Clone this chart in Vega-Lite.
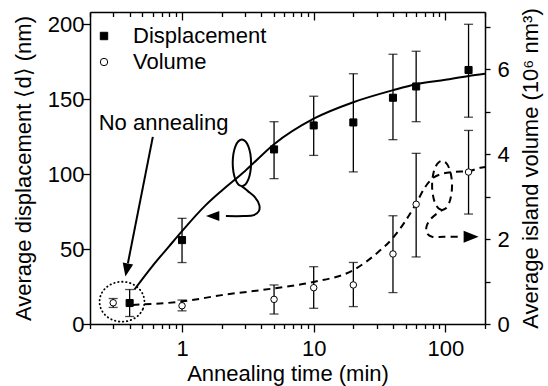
{
  "$schema": "https://vega.github.io/schema/vega-lite/v6.json",
  "width": 395,
  "height": 312,
  "autosize": {"type": "none"},
  "padding": {"left": 90, "top": 12, "right": 63, "bottom": 62},
  "background": "white",
  "config": {
    "font": "Liberation Sans",
    "view": {"stroke": null},
    "axis": {
      "grid": false,
      "domainColor": "black",
      "domainWidth": 1.5,
      "tickColor": "black",
      "tickWidth": 1.3,
      "labelColor": "black",
      "titleColor": "black",
      "labelFont": "Liberation Sans",
      "titleFont": "Liberation Sans",
      "labelFontSize": 22,
      "titleFontSize": 22,
      "titleFontWeight": "normal",
      "labelOverlap": false,
      "labelFlush": false
    },
    "legend": {
      "orient": "none",
      "legendX": 3,
      "legendY": 13,
      "padding": 0,
      "labelFont": "Liberation Sans",
      "labelFontSize": 22,
      "labelColor": "black",
      "labelOffset": 18,
      "rowPadding": 4,
      "symbolStrokeColor": "black",
      "symbolStrokeWidth": 1,
      "symbolSize": 55
    }
  },
  "datasets": {
    "disp": [
      {"t": 0.4, "d": 14, "lo": 5, "hi": 23, "series": "Displacement"},
      {"t": 1, "d": 56, "lo": 41, "hi": 70.5, "series": "Displacement"},
      {"t": 5, "d": 116.5, "lo": 97, "hi": 135, "series": "Displacement"},
      {"t": 10, "d": 132.5, "lo": 112.5, "hi": 152, "series": "Displacement"},
      {"t": 20, "d": 134.5, "lo": 101.5, "hi": 167, "series": "Displacement"},
      {"t": 40, "d": 151, "lo": 123, "hi": 180, "series": "Displacement"},
      {"t": 60, "d": 158.5, "lo": 135, "hi": 182, "series": "Displacement"},
      {"t": 150, "d": 169.5, "lo": 138, "hi": 200, "series": "Displacement"}
    ],
    "vol": [
      {"t": 0.3, "v": 0.5, "lo": 0.39, "hi": 0.6, "series": "Volume"},
      {"t": 1, "v": 0.43, "lo": 0.31, "hi": 0.565, "series": "Volume"},
      {"t": 5, "v": 0.58, "lo": 0.235, "hi": 0.92, "series": "Volume"},
      {"t": 10, "v": 0.855, "lo": 0.37, "hi": 1.35, "series": "Volume"},
      {"t": 20, "v": 0.92, "lo": 0.41, "hi": 1.45, "series": "Volume"},
      {"t": 40, "v": 1.65, "lo": 0.74, "hi": 2.55, "series": "Volume"},
      {"t": 60, "v": 2.82, "lo": 1.58, "hi": 4.02, "series": "Volume"},
      {"t": 150, "v": 3.58, "lo": 2.59, "hi": 4.56, "series": "Volume"}
    ],
    "dfit": [
      {"t": 0.435, "d": 23}, {"t": 0.6, "d": 39}, {"t": 0.8, "d": 52}, {"t": 1, "d": 62},
      {"t": 1.5, "d": 79}, {"t": 2, "d": 89}, {"t": 3, "d": 102}, {"t": 5, "d": 120},
      {"t": 10, "d": 137}, {"t": 20, "d": 148}, {"t": 40, "d": 156}, {"t": 60, "d": 160},
      {"t": 100, "d": 163}, {"t": 150, "d": 165.5}, {"t": 200, "d": 167}
    ],
    "vfit": [
      {"t": 0.42, "v": 0.45}, {"t": 1, "v": 0.53}, {"t": 2, "v": 0.68}, {"t": 5, "v": 0.84},
      {"t": 10, "v": 0.99}, {"t": 20, "v": 1.27}, {"t": 30, "v": 1.66}, {"t": 40, "v": 2.03},
      {"t": 60, "v": 2.84}, {"t": 70, "v": 3.22}, {"t": 81.5, "v": 3.45}, {"t": 95, "v": 3.54},
      {"t": 115, "v": 3.58}, {"t": 150, "v": 3.6}, {"t": 184, "v": 3.68}, {"t": 200, "v": 3.7}
    ],
    "dotring": [
      {"i": 0, "t": 0.518, "d": 14.87}, {"i": 1, "t": 0.503, "d": 9.76}, {"i": 2, "t": 0.462, "d": 5.44},
      {"i": 3, "t": 0.4066, "d": 2.55}, {"i": 4, "t": 0.3499, "d": 1.53}, {"i": 5, "t": 0.3012, "d": 2.55},
      {"i": 6, "t": 0.2651, "d": 5.44}, {"i": 7, "t": 0.2434, "d": 9.76}, {"i": 8, "t": 0.2363, "d": 14.87},
      {"i": 9, "t": 0.2434, "d": 19.97}, {"i": 10, "t": 0.2651, "d": 24.29}, {"i": 11, "t": 0.3012, "d": 27.19},
      {"i": 12, "t": 0.3499, "d": 28.2}, {"i": 13, "t": 0.4066, "d": 27.19}, {"i": 14, "t": 0.462, "d": 24.29},
      {"i": 15, "t": 0.503, "d": 19.97}
    ],
    "loopd": [
      {"i": 0, "t": 2.848, "d": 91.87}, {"i": 1, "t": 3.027, "d": 93.07}, {"i": 2, "t": 3.19, "d": 96.47},
      {"i": 3, "t": 3.304, "d": 101.53}, {"i": 4, "t": 3.344, "d": 107.53}, {"i": 5, "t": 3.304, "d": 113.53},
      {"i": 6, "t": 3.19, "d": 118.6}, {"i": 7, "t": 3.027, "d": 122.0}, {"i": 8, "t": 2.848, "d": 123.2},
      {"i": 9, "t": 2.679, "d": 122.0}, {"i": 10, "t": 2.543, "d": 118.6}, {"i": 11, "t": 2.456, "d": 113.53},
      {"i": 12, "t": 2.426, "d": 107.53}, {"i": 13, "t": 2.456, "d": 101.53}, {"i": 14, "t": 2.543, "d": 96.47},
      {"i": 15, "t": 2.679, "d": 93.07}, {"i": 16, "t": 2.848, "d": 91.87}, {"i": 17, "t": 3.162, "d": 88.67},
      {"i": 18, "t": 3.573, "d": 84.67}, {"i": 19, "t": 3.865, "d": 79.33}, {"i": 20, "t": 3.831, "d": 75.33},
      {"i": 21, "t": 3.511, "d": 72.67}, {"i": 22, "t": 2.95, "d": 72.0}, {"i": 23, "t": 2.154, "d": 72.0}
    ],
    "naline": [
      {"i": 0, "t": 0.6, "d": 124.9}, {"i": 1, "t": 0.388, "d": 40.5}
    ],
    "loopv": [
      {"i": 0, "t": 94.4, "v": 2.682}, {"i": 1, "t": 88.4, "v": 2.727}, {"i": 2, "t": 83.4, "v": 2.853},
      {"i": 3, "t": 80.4, "v": 3.041}, {"i": 4, "t": 79.3, "v": 3.264}, {"i": 5, "t": 80.4, "v": 3.486},
      {"i": 6, "t": 83.4, "v": 3.674}, {"i": 7, "t": 88.4, "v": 3.8}, {"i": 8, "t": 94.4, "v": 3.845},
      {"i": 9, "t": 100.9, "v": 3.8}, {"i": 10, "t": 106.9, "v": 3.674}, {"i": 11, "t": 110.8, "v": 3.486},
      {"i": 12, "t": 112.4, "v": 3.264}, {"i": 13, "t": 110.8, "v": 3.041}, {"i": 14, "t": 106.9, "v": 2.853},
      {"i": 15, "t": 100.9, "v": 2.727}, {"i": 16, "t": 94.4, "v": 2.682}, {"i": 17, "t": 86.5, "v": 2.605},
      {"i": 18, "t": 77.0, "v": 2.464}, {"i": 19, "t": 71.8, "v": 2.289}, {"i": 20, "t": 72.7, "v": 2.134},
      {"i": 21, "t": 79.3, "v": 2.054}, {"i": 22, "t": 97.1, "v": 2.054}, {"i": 23, "t": 129.9, "v": 2.054}
    ]
  },
  "layer": [
    {
      "encoding": {
        "x": {
          "field": "t", "type": "quantitative",
          "scale": {"type": "log", "domain": [0.2, 200], "nice": false},
          "axis": {
            "orient": "bottom",
            "values": [0.2, 0.3, 0.4, 0.5, 0.6, 0.7, 0.8, 0.9, 1, 2, 3, 4, 5, 6, 7, 8, 9, 10, 20, 30, 40, 50, 60, 70, 80, 90, 100, 200],
            "labelExpr": "datum.value == 1 ? '1' : datum.value == 10 ? '10' : datum.value == 100 ? '100' : ''",
            "tickSize": {"condition": {"test": "datum.value == 1 || datum.value == 10 || datum.value == 100", "value": 8}, "value": 4.5},
            "labelPadding": 6,
            "title": "Annealing time (min)",
            "titlePadding": 4
          }
        }
      },
      "layer": [
        {
          "data": {"name": "dfit"},
          "mark": {"type": "line", "color": "black", "strokeWidth": 2, "interpolate": "monotone"},
          "encoding": {
            "y": {
              "field": "d", "type": "quantitative",
              "scale": {"domain": [0, 208.2], "nice": false, "zero": false},
              "axis": {
                "orient": "left",
                "values": [0, 25, 50, 75, 100, 125, 150, 175, 200],
                "labelExpr": "datum.value % 50 == 0 ? datum.label : ''",
                "tickSize": {"condition": {"test": "datum.value % 50 == 0", "value": 8}, "value": 6},
                "labelPadding": -2,
                "title": "Average displacement ⟨d⟩ (nm)",
                "titlePadding": 12
              }
            }
          }
        },
        {
          "data": {"name": "disp"},
          "mark": {"type": "rule", "color": "black", "strokeWidth": 1.3},
          "encoding": {
            "y": {"field": "lo", "type": "quantitative", "scale": {"domain": [0, 208.2], "nice": false, "zero": false}, "title": "Average displacement ⟨d⟩ (nm)"},
            "y2": {"field": "hi"}
          }
        },
        {
          "data": {"name": "disp"},
          "mark": {"type": "tick", "orient": "horizontal", "color": "black", "size": 9, "thickness": 1.3},
          "encoding": {
            "y": {"field": "lo", "type": "quantitative", "scale": {"domain": [0, 208.2], "nice": false, "zero": false}, "title": "Average displacement ⟨d⟩ (nm)"}
          }
        },
        {
          "data": {"name": "disp"},
          "mark": {"type": "tick", "orient": "horizontal", "color": "black", "size": 9, "thickness": 1.3},
          "encoding": {
            "y": {"field": "hi", "type": "quantitative", "scale": {"domain": [0, 208.2], "nice": false, "zero": false}, "title": "Average displacement ⟨d⟩ (nm)"}
          }
        },
        {
          "data": {"name": "dotring"},
          "mark": {"type": "line", "color": "black", "strokeWidth": 1.8, "strokeDash": [0.5, 3.5], "strokeCap": "round", "interpolate": "cardinal-closed"},
          "encoding": {
            "y": {"field": "d", "type": "quantitative", "scale": {"domain": [0, 208.2], "nice": false, "zero": false}, "title": "Average displacement ⟨d⟩ (nm)"},
            "order": {"field": "i"}
          }
        },
        {
          "data": {"name": "loopd"},
          "mark": {"type": "line", "color": "black", "strokeWidth": 2, "interpolate": "catmull-rom"},
          "encoding": {
            "y": {"field": "d", "type": "quantitative", "scale": {"domain": [0, 208.2], "nice": false, "zero": false}, "title": "Average displacement ⟨d⟩ (nm)"},
            "order": {"field": "i"}
          }
        },
        {
          "data": {"name": "naline"},
          "mark": {"type": "line", "color": "black", "strokeWidth": 2},
          "encoding": {
            "y": {"field": "d", "type": "quantitative", "scale": {"domain": [0, 208.2], "nice": false, "zero": false}, "title": "Average displacement ⟨d⟩ (nm)"},
            "order": {"field": "i"}
          }
        },
        {
          "data": {"values": [{"t": 0.3798, "d": 36}]},
          "mark": {"type": "point", "shape": "M 0 1 L -0.8 -1 L 0.8 -1 Z", "filled": true, "color": "black", "opacity": 1, "size": 177, "angle": 11},
          "encoding": {
            "y": {"field": "d", "type": "quantitative", "scale": {"domain": [0, 208.2], "nice": false, "zero": false}, "title": "Average displacement ⟨d⟩ (nm)"}
          }
        },
        {
          "data": {"values": [{"t": 1.708, "d": 72}]},
          "mark": {"type": "point", "shape": "M -1 0 L 1 -0.75 L 1 0.75 Z", "filled": true, "color": "black", "opacity": 1, "size": 177},
          "encoding": {
            "y": {"field": "d", "type": "quantitative", "scale": {"domain": [0, 208.2], "nice": false, "zero": false}, "title": "Average displacement ⟨d⟩ (nm)"}
          }
        },
        {
          "data": {"values": [{"t": 0.724, "d": 129.3, "label": "No annealing"}]},
          "mark": {"type": "text", "font": "Liberation Sans", "fontSize": 22, "color": "black", "align": "center", "baseline": "alphabetic"},
          "encoding": {
            "y": {"field": "d", "type": "quantitative", "scale": {"domain": [0, 208.2], "nice": false, "zero": false}, "title": "Average displacement ⟨d⟩ (nm)"},
            "text": {"field": "label"}
          }
        },
        {
          "data": {"name": "disp"},
          "mark": {"type": "point", "filled": true, "strokeWidth": 1, "opacity": 1, "size": 50},
          "encoding": {
            "y": {"field": "d", "type": "quantitative", "scale": {"domain": [0, 208.2], "nice": false, "zero": false}, "title": "Average displacement ⟨d⟩ (nm)"},
            "shape": {"field": "series", "type": "nominal", "scale": {"domain": ["Displacement", "Volume"], "range": ["square", "circle"]}, "legend": {"title": null}},
            "fill": {"field": "series", "type": "nominal", "scale": {"domain": ["Displacement", "Volume"], "range": ["black", "white"]}, "legend": {"title": null}},
            "stroke": {"field": "series", "type": "nominal", "scale": {"domain": ["Displacement", "Volume"], "range": ["black", "black"]}, "legend": {"title": null}}
          }
        }
      ]
    },
    {
      "encoding": {
        "x": {
          "field": "t", "type": "quantitative",
          "scale": {"type": "log", "domain": [0.2, 200], "nice": false},
          "axis": {
            "orient": "top",
            "values": [0.2, 0.3, 0.4, 0.5, 0.6, 0.7, 0.8, 0.9, 1, 2, 3, 4, 5, 6, 7, 8, 9, 10, 20, 30, 40, 50, 60, 70, 80, 90, 100, 200],
            "labels": false,
            "tickSize": {"condition": {"test": "datum.value == 1 || datum.value == 10 || datum.value == 100", "value": -8}, "value": -4.5},
            "title": null
          }
        }
      },
      "layer": [
        {
          "data": {"name": "vfit"},
          "mark": {"type": "line", "color": "black", "strokeWidth": 2, "strokeDash": [7, 5], "interpolate": "monotone"},
          "encoding": {
            "y": {
              "field": "v", "type": "quantitative",
              "scale": {"domain": [0, 7.35], "nice": false, "zero": false},
              "axis": {
                "orient": "right",
                "values": [0, 1, 2, 3, 4, 5, 6, 7],
                "labelExpr": "datum.value % 2 == 0 ? datum.label : ''",
                "tickSize": 5,
                "labelPadding": 7,
                "title": "Average island volume (10⁶ nm³)",
                "titleAngle": 270,
                "titleBaseline": "top",
                "titlePadding": 11
              }
            }
          }
        },
        {
          "data": {"name": "loopv"},
          "mark": {"type": "line", "color": "black", "strokeWidth": 2, "strokeDash": [7, 5], "interpolate": "catmull-rom"},
          "encoding": {
            "y": {"field": "v", "type": "quantitative", "scale": {"domain": [0, 7.35], "nice": false, "zero": false}, "title": "Average island volume (10⁶ nm³)"},
            "order": {"field": "i"}
          }
        },
        {
          "data": {"values": [{"t": 156.9, "v": 2.054}]},
          "mark": {"type": "point", "shape": "M 1 0 L -1 -0.8 L -1 0.8 Z", "filled": true, "color": "black", "opacity": 1, "size": 225},
          "encoding": {
            "y": {"field": "v", "type": "quantitative", "scale": {"domain": [0, 7.35], "nice": false, "zero": false}, "title": "Average island volume (10⁶ nm³)"}
          }
        },
        {
          "data": {"name": "vol"},
          "mark": {"type": "rule", "color": "black", "strokeWidth": 1.3},
          "encoding": {
            "y": {"field": "lo", "type": "quantitative", "scale": {"domain": [0, 7.35], "nice": false, "zero": false}, "title": "Average island volume (10⁶ nm³)"},
            "y2": {"field": "hi"}
          }
        },
        {
          "data": {"name": "vol"},
          "mark": {"type": "tick", "orient": "horizontal", "color": "black", "size": 9, "thickness": 1.3},
          "encoding": {
            "y": {"field": "lo", "type": "quantitative", "scale": {"domain": [0, 7.35], "nice": false, "zero": false}, "title": "Average island volume (10⁶ nm³)"}
          }
        },
        {
          "data": {"name": "vol"},
          "mark": {"type": "tick", "orient": "horizontal", "color": "black", "size": 9, "thickness": 1.3},
          "encoding": {
            "y": {"field": "hi", "type": "quantitative", "scale": {"domain": [0, 7.35], "nice": false, "zero": false}, "title": "Average island volume (10⁶ nm³)"}
          }
        },
        {
          "data": {"name": "vol"},
          "mark": {"type": "point", "filled": true, "strokeWidth": 1, "opacity": 1, "size": 42},
          "encoding": {
            "y": {"field": "v", "type": "quantitative", "scale": {"domain": [0, 7.35], "nice": false, "zero": false}, "title": "Average island volume (10⁶ nm³)"},
            "shape": {"field": "series", "type": "nominal", "scale": {"domain": ["Displacement", "Volume"], "range": ["square", "circle"]}, "legend": {"title": null}},
            "fill": {"field": "series", "type": "nominal", "scale": {"domain": ["Displacement", "Volume"], "range": ["black", "white"]}, "legend": {"title": null}},
            "stroke": {"field": "series", "type": "nominal", "scale": {"domain": ["Displacement", "Volume"], "range": ["black", "black"]}, "legend": {"title": null}}
          }
        }
      ]
    }
  ],
  "resolve": {"scale": {"y": "independent"}, "axis": {"x": "independent"}}
}
